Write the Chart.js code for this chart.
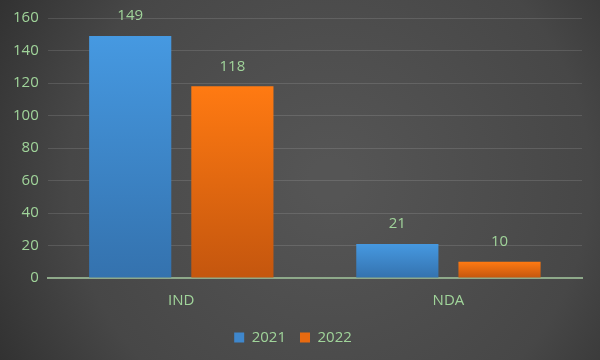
<!DOCTYPE html>
<html><head><meta charset="utf-8">
<script src="https://cdn.jsdelivr.net/npm/chart.js@4/dist/chart.umd.min.js"></script>
<style>html,body{margin:0;padding:0;background:#3a3a3a}#w{width:600px;height:360px}</style>
</head><body><div id="w"><canvas id="c" width="600" height="360"></canvas></div>
<script>
const categories = ["IND", "NDA"];
const series2021 = [149, 21];
const series2022 = [118, 10];
const seriesNames = ["2021", "2022"];
const yTicks = [0, 20, 40, 60, 80, 100, 120, 140, 160];

const TXT = '#a0d49a';
const FONT = "'Open Sans', 'Noto Sans', sans-serif";

function barGrad(ctx, top, bot) {
  const chart = ctx.chart;
  const a = chart.chartArea;
  if (!a || ctx.type !== 'data') return top;
  const ys = chart.scales.y;
  const yTop = ys.getPixelForValue(ctx.raw);
  const yBot = ys.getPixelForValue(0);
  const g = chart.ctx.createLinearGradient(0, yTop, 0, yBot);
  g.addColorStop(0, top); g.addColorStop(1, bot);
  return g;
}

const bgPlugin = {
  id: 'bg',
  beforeDraw(chart) {
    const c = chart.ctx, w = chart.width, h = chart.height;
    const g = c.createRadialGradient(w*0.55, h*0.5, 20, w*0.55, h*0.5, w*0.7);
    g.addColorStop(0, '#555555');
    g.addColorStop(0.6, '#474747');
    g.addColorStop(1, '#2a2a2a');
    c.save(); c.fillStyle = g; c.fillRect(0, 0, w, h); c.restore();
  }
};

const labelPlugin = {
  id: 'lbl',
  afterDatasetsDraw(chart) {
    const c = chart.ctx;
    c.save();
    c.font = "15px " + FONT;
    c.fillStyle = TXT;
    c.textAlign = 'center';
    c.textBaseline = 'middle';
    chart.data.datasets.forEach((ds, i) => {
      chart.getDatasetMeta(i).data.forEach((bar, j) => {
        c.fillText(String(ds.data[j]), bar.x, bar.y - 20);
      });
    });
    c.restore();
  }
};

new Chart(document.getElementById('c'), {
  type: 'bar',
  data: {
    labels: categories,
    datasets: [
      { label: seriesNames[0], data: series2021,
        backgroundColor: ctx => barGrad(ctx, '#4699e1', '#3472ae') },
      { label: seriesNames[1], data: series2022,
        backgroundColor: ctx => barGrad(ctx, '#ff7a12', '#c4560e') }
    ]
  },
  options: {
    responsive: false,
    animation: false,
    devicePixelRatio: 1,
    layout: { padding: { left: 4, right: 18, top: 10, bottom: 5 } },
    datasets: { bar: { categoryPercentage: 0.765, barPercentage: 0.804 } },
    scales: {
      x: {
        grid: { display: false },
        border: { display: true, color: '#8ea98a', width: 2 },
        ticks: { color: TXT, font: { family: FONT, size: 15 }, padding: 6 }
      },
      y: {
        min: 0, max: 160,
        afterBuildTicks: ax => { ax.ticks = yTicks.map(v => ({ value: v })); },
        grid: { color: 'rgba(255,255,255,0.12)', drawTicks: false },
        border: { display: false },
        ticks: { color: TXT, font: { family: FONT, size: 15 }, padding: 9 }
      }
    },
    plugins: {
      legend: {
        position: 'bottom',
        labels: { color: TXT, font: { family: FONT, size: 15 }, boxWidth: 10, boxHeight: 10, padding: 14,
          generateLabels: chart => chart.data.datasets.map((ds, i) => ({
            text: ds.label, fillStyle: i === 0 ? '#3f87cc' : '#e86a10', strokeStyle: 'transparent',
            lineWidth: 0, fontColor: TXT, datasetIndex: i, hidden: false }))
        }
      },
      tooltip: { enabled: false }
    }
  },
  plugins: [bgPlugin, labelPlugin]
});
</script></body></html>
